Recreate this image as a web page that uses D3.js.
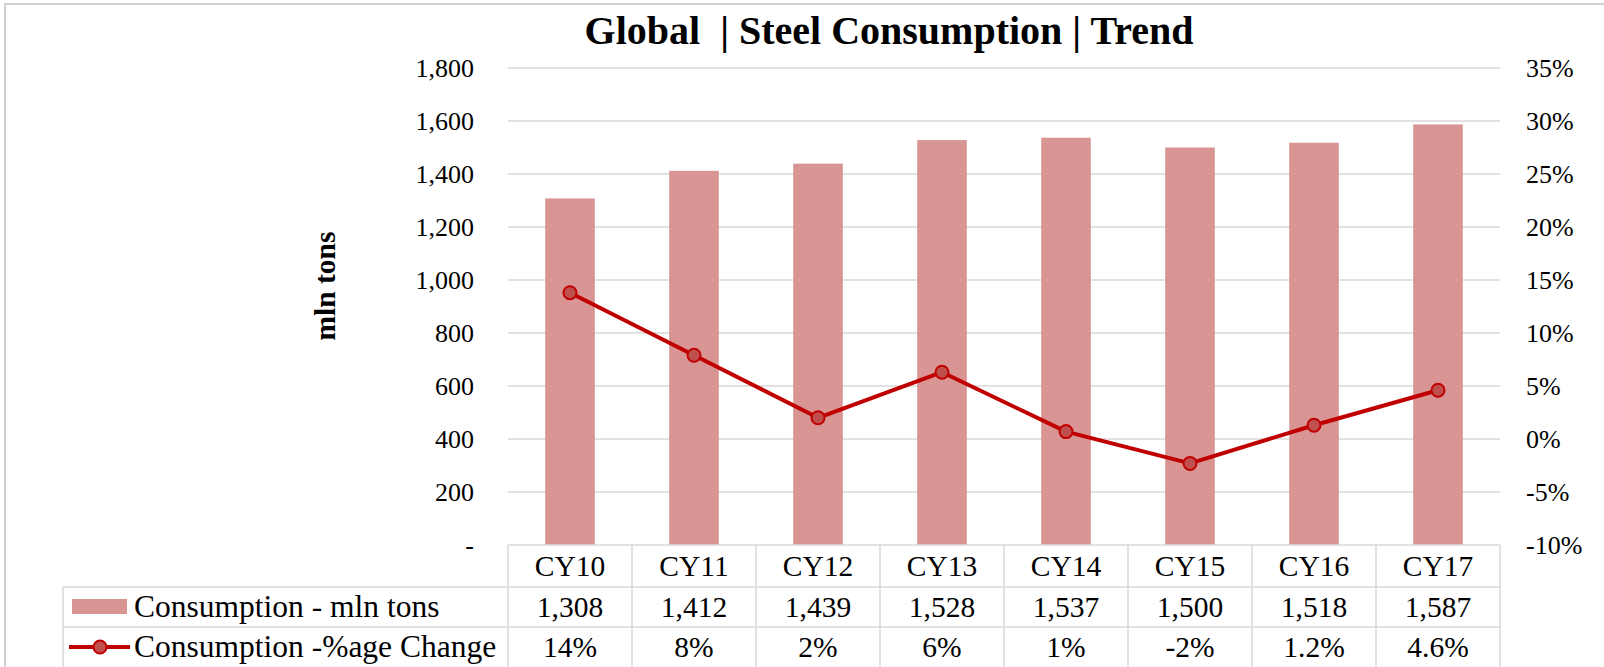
<!DOCTYPE html>
<html>
<head>
<meta charset="utf-8">
<script src="https://cdn.jsdelivr.net/npm/d3@7"></script>
<style>
  body { margin: 0; background: #fff; }
  svg { display: block; font-family: "Liberation Serif", "Times New Roman", serif; }
  svg text { font-family: "Liberation Serif", "Times New Roman", serif; }
  .tick text { font-size: 26px; fill: #000; }
  .cell-text { font-size: 29.5px; fill: #000; text-anchor: middle; }
</style>
</head>
<body>
<svg width="1604" height="667"></svg>
<script>
// chart data
const categories = ['CY10', 'CY11', 'CY12', 'CY13', 'CY14', 'CY15', 'CY16', 'CY17']
const consumption = [1308, 1412, 1439, 1528, 1537, 1500, 1518, 1587]
const pctChange = [0.138, 0.079, 0.020, 0.063, 0.007, -0.023, 0.013, 0.046]
const pctLabels = ['14%', '8%', '2%', '6%', '1%', '-2%', '1.2%', '4.6%']
const leftTicks = [0, 200, 400, 600, 800, 1000, 1200, 1400, 1600, 1800]
const rightTicks = [-0.10, -0.05, 0, 0.05, 0.10, 0.15, 0.20, 0.25, 0.30, 0.35]
const seriesNames = ['Consumption - mln tons', 'Consumption -%age Change']

const svg = d3.select('svg')

const barColor = '#d99594'
const lineColor = '#c00000'
const gridColor = '#d9d9d9'

// plain hyphen for negatives, like the spreadsheet
const pctFormat = d => d3.format('.0%')(d).replace('\u2212', '-')

// chart frame
svg.append('path')
	.attr('d', 'M5,667 V4 H1604')
	.attr('fill', 'none')
	.attr('stroke', '#d0d0d0')
	.attr('stroke-width', 2)

// scales
const x = d3.scaleBand()
	.domain(categories)
	.range([508, 1500])
	.paddingInner(0.6)
	.paddingOuter(0.3)

const yLeft = d3.scaleLinear()
	.domain([0, 1800])
	.range([545, 68])

const yRight = d3.scaleLinear()
	.domain([-0.10, 0.35])
	.range([545, 68])

// gridlines
svg.append('g')
	.selectAll('line')
	.data(leftTicks.slice(1))
	.enter()
	.append('line')
	.attr('x1', 508)
	.attr('x2', 1500)
	.attr('y1', d => yLeft(d))
	.attr('y2', d => yLeft(d))
	.attr('stroke', gridColor)
	.attr('stroke-width', 1.5)

// left axis
const leftAxis = svg.append('g')
	.attr('transform', 'translate(500,0)')
	.call(d3.axisLeft(yLeft)
		.tickValues(leftTicks)
		.tickSize(0)
		.tickPadding(26)
		.tickFormat(d => d === 0 ? '-' : d3.format(',')(d)))
leftAxis.attr('font-family', null).attr('font-size', null)
leftAxis.select('.domain').remove()

// right axis
const rightAxis = svg.append('g')
	.attr('transform', 'translate(1500,0)')
	.call(d3.axisRight(yRight)
		.tickValues(rightTicks)
		.tickSize(0)
		.tickPadding(26)
		.tickFormat(pctFormat))
rightAxis.attr('font-family', null).attr('font-size', null)
rightAxis.select('.domain').remove()

// y axis title
svg.append('text')
	.attr('transform', 'translate(335,286) rotate(-90)')
	.attr('text-anchor', 'middle')
	.attr('font-size', 29.5)
	.attr('font-weight', 'bold')
	.text('mln tons')

// title
svg.append('text')
	.attr('x', 889)
	.attr('y', 44)
	.attr('text-anchor', 'middle')
	.attr('font-size', 40)
	.attr('font-weight', 'bold')
	.attr('xml:space', 'preserve')
	.style('white-space', 'pre')
	.text('Global  | Steel Consumption | Trend')

// bars
svg.append('g')
	.selectAll('rect')
	.data(consumption)
	.enter()
	.append('rect')
	.attr('x', (d, i) => x(categories[i]))
	.attr('y', d => yLeft(d))
	.attr('width', x.bandwidth())
	.attr('height', d => yLeft(0) - yLeft(d))
	.attr('fill', barColor)

// line
const cx = i => x(categories[i]) + x.bandwidth() / 2
const line = d3.line()
	.x((d, i) => cx(i))
	.y(d => yRight(d))

svg.append('path')
	.datum(pctChange)
	.attr('d', line)
	.attr('fill', 'none')
	.attr('stroke', lineColor)
	.attr('stroke-width', 4)
	.attr('stroke-linejoin', 'round')

svg.append('g')
	.selectAll('circle')
	.data(pctChange)
	.enter()
	.append('circle')
	.attr('cx', (d, i) => cx(i))
	.attr('cy', d => yRight(d))
	.attr('r', 6.5)
	.attr('fill', '#c0504d')
	.attr('stroke', lineColor)
	.attr('stroke-width', 2)

// data table
const rowTops = [545, 587, 627, 667]
const step = x.step()
const colEdges = d3.range(categories.length + 1).map(i => 508 + i * step)
const table = svg.append('g')
	.attr('stroke', gridColor)
	.attr('stroke-width', 1.5)

// horizontal borders
table.append('line').attr('x1', 508).attr('x2', 1500).attr('y1', rowTops[0]).attr('y2', rowTops[0])
table.selectAll('line.h')
	.data(rowTops.slice(1, 3))
	.enter()
	.append('line')
	.attr('class', 'h')
	.attr('x1', 63)
	.attr('x2', 1500)
	.attr('y1', d => d)
	.attr('y2', d => d)

// vertical borders
table.selectAll('line.v')
	.data(colEdges)
	.enter()
	.append('line')
	.attr('class', 'v')
	.attr('x1', d => d)
	.attr('x2', d => d)
	.attr('y1', rowTops[0])
	.attr('y2', rowTops[3])
table.append('line').attr('x1', 63).attr('x2', 63).attr('y1', rowTops[1]).attr('y2', rowTops[3])

// header row + value rows
const rows = [categories, consumption.map(d3.format(',')), pctLabels]
rows.forEach((row, r) => {
	svg.append('g')
		.selectAll('text')
		.data(row)
		.enter()
		.append('text')
		.attr('class', 'cell-text')
		.attr('x', (d, i) => cx(i))
		.attr('y', (rowTops[r] + rowTops[r + 1]) / 2 + 10)
		.text(d => d)
})

// legend keys in table
svg.append('rect')
	.attr('x', 72)
	.attr('y', 599)
	.attr('width', 55)
	.attr('height', 15)
	.attr('fill', barColor)

svg.append('line')
	.attr('x1', 69)
	.attr('x2', 130)
	.attr('y1', 647)
	.attr('y2', 647)
	.attr('stroke', lineColor)
	.attr('stroke-width', 4)

svg.append('circle')
	.attr('cx', 100)
	.attr('cy', 647)
	.attr('r', 6.5)
	.attr('fill', '#c0504d')
	.attr('stroke', lineColor)
	.attr('stroke-width', 2)

svg.append('g')
	.selectAll('text')
	.data(seriesNames)
	.enter()
	.append('text')
	.attr('x', 134)
	.attr('y', (d, i) => (rowTops[i + 1] + rowTops[i + 2]) / 2 + 10)
	.attr('font-size', 31.5)
	.text(d => d)
</script>
</body>
</html>
